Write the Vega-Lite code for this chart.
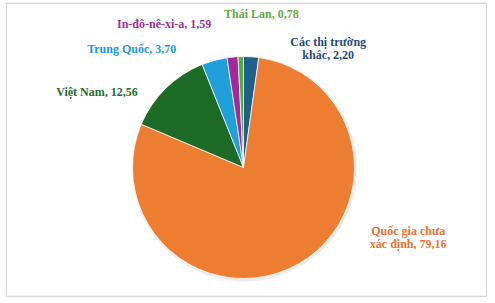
{
  "$schema": "https://vega.github.io/schema/vega-lite/v6.json",
  "width": 480,
  "height": 293,
  "autosize": {"type": "none"},
  "padding": {"left": 6, "top": 3, "right": 9, "bottom": 7},
  "background": "white",
  "view": {"stroke": "#d4d4d4", "strokeWidth": 1.2, "fill": "white"},
  "data": {
    "values": [
      {"thi_truong": "Các thị trường khác", "ty_le": 2.20, "thu_tu": 1, "nhan": "Các thị trường\nkhác, 2,20"},
      {"thi_truong": "Quốc gia chưa xác định", "ty_le": 79.16, "thu_tu": 2, "nhan": "Quốc gia chưa\nxác định, 79,16"},
      {"thi_truong": "Việt Nam", "ty_le": 12.56, "thu_tu": 3, "nhan": "Việt Nam, 12,56"},
      {"thi_truong": "Trung Quốc", "ty_le": 3.70, "thu_tu": 4, "nhan": "Trung Quốc, 3,70"},
      {"thi_truong": "In-đô-nê-xi-a", "ty_le": 1.59, "thu_tu": 5, "nhan": "In-đô-nê-xi-a, 1,59"},
      {"thi_truong": "Thái Lan", "ty_le": 0.78, "thu_tu": 6, "nhan": "Thái Lan, 0,78"}
    ]
  },
  "encoding": {
    "theta": {"field": "ty_le", "type": "quantitative", "stack": true},
    "order": {"field": "thu_tu", "type": "quantitative", "sort": "ascending"},
    "color": {
      "field": "thi_truong",
      "type": "nominal",
      "legend": null,
      "scale": {
        "domain": ["Các thị trường khác", "Quốc gia chưa xác định", "Việt Nam", "Trung Quốc", "In-đô-nê-xi-a", "Thái Lan"],
        "range": ["#1F5F8B", "#ED7D31", "#1D6B27", "#1FA0DB", "#A3299D", "#4FAE3F"]
      }
    }
  },
  "layer": [
    {
      "mark": {"type": "arc", "radius": 112.5, "x": {"expr": "width/2 - 1.5"}, "y": {"expr": "height/2 + 19.5"}, "opacity": 0.12},
      "encoding": {"color": {"value": "#5a6a80"}}
    },
    {
      "mark": {"type": "arc", "radius": 111, "x": {"expr": "width/2 - 2.5"}, "y": {"expr": "height/2 + 18"}, "stroke": "white", "strokeWidth": 0.75}
    },
    {
      "mark": {"type": "text", "font": "Liberation Serif", "fontSize": 12, "fontWeight": "bold", "radius": 125, "x": {"expr": "width/2 - 2.5"}, "y": {"expr": "height/2 + 18"}, "align": "center", "baseline": "alphabetic", "lineBreak": "\n", "lineHeight": 13, "dx": 76, "dy": 3},
      "encoding": {
        "color": {"value": "#1F4E79"},
        "text": {"condition": {"test": "datum.thi_truong === 'Các thị trường khác'", "field": "nhan"}, "value": ""}
      }
    },
    {
      "mark": {"type": "text", "font": "Liberation Serif", "fontSize": 12, "fontWeight": "bold", "radius": 125, "x": {"expr": "width/2 - 2.5"}, "y": {"expr": "height/2 + 18"}, "align": "center", "baseline": "alphabetic", "lineBreak": "\n", "lineHeight": 12.5, "dx": 103, "dy": -41},
      "encoding": {
        "color": {"value": "#E97132"},
        "text": {"condition": {"test": "datum.thi_truong === 'Quốc gia chưa xác định'", "field": "nhan"}, "value": ""}
      }
    },
    {
      "mark": {"type": "text", "font": "Liberation Serif", "fontSize": 12, "fontWeight": "bold", "radius": 125, "x": {"expr": "width/2 - 2.5"}, "y": {"expr": "height/2 + 18"}, "align": "center", "baseline": "alphabetic", "dx": -59, "dy": 18},
      "encoding": {
        "color": {"value": "#1E6B2E"},
        "text": {"condition": {"test": "datum.thi_truong === 'Việt Nam'", "field": "nhan"}, "value": ""}
      }
    },
    {
      "mark": {"type": "text", "font": "Liberation Serif", "fontSize": 12, "fontWeight": "bold", "radius": 125, "x": {"expr": "width/2 - 2.5"}, "y": {"expr": "height/2 + 18"}, "align": "center", "baseline": "alphabetic", "dx": -79, "dy": 6},
      "encoding": {
        "color": {"value": "#1B9AD6"},
        "text": {"condition": {"test": "datum.thi_truong === 'Trung Quốc'", "field": "nhan"}, "value": ""}
      }
    },
    {
      "mark": {"type": "text", "font": "Liberation Serif", "fontSize": 12, "fontWeight": "bold", "radius": 125, "x": {"expr": "width/2 - 2.5"}, "y": {"expr": "height/2 + 18"}, "align": "center", "baseline": "alphabetic", "dx": -67, "dy": -15},
      "encoding": {
        "color": {"value": "#9E2F97"},
        "text": {"condition": {"test": "datum.thi_truong === 'In-đô-nê-xi-a'", "field": "nhan"}, "value": ""}
      }
    },
    {
      "mark": {"type": "text", "font": "Liberation Serif", "fontSize": 12, "fontWeight": "bold", "radius": 125, "x": {"expr": "width/2 - 2.5"}, "y": {"expr": "height/2 + 18"}, "align": "center", "baseline": "alphabetic", "dx": 21, "dy": -24.5},
      "encoding": {
        "color": {"value": "#5FA845"},
        "text": {"condition": {"test": "datum.thi_truong === 'Thái Lan'", "field": "nhan"}, "value": ""}
      }
    }
  ]
}
